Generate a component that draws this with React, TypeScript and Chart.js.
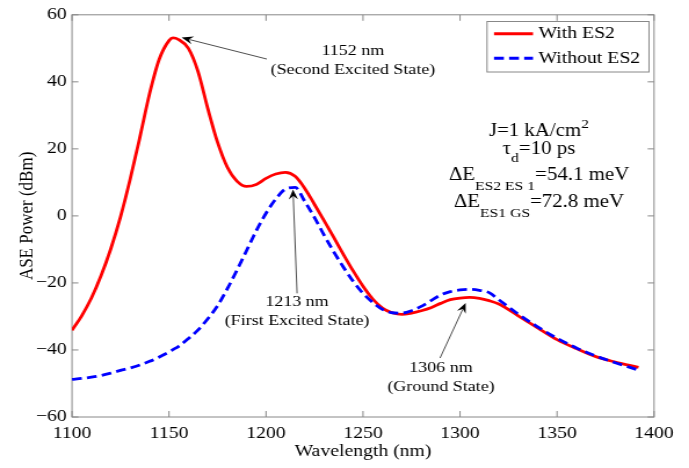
import React, { useEffect, useRef } from "react";
import { Chart, registerables } from "chart.js";

Chart.register(...registerables);

// ---------------- data ----------------
const wavelengths = [
  1100, 1105, 1110, 1115, 1120, 1125, 1130, 1135, 1140, 1145, 1150, 1152, 1155, 1160, 1165, 1170,
  1175, 1180, 1185, 1190, 1195, 1200, 1205, 1210, 1215, 1220, 1225, 1230, 1235, 1240, 1245, 1250,
  1255, 1260, 1265, 1270, 1275, 1280, 1285, 1290, 1295, 1300, 1305, 1310, 1315, 1320, 1330, 1340,
  1350, 1360, 1370, 1380, 1392,
];
const withES2 = [
  -34.1, -29.8, -24.5, -17.8, -9.8, -0.3, 11.0, 23.5, 36.5, 46.8, 52.3, 53.1, 52.6, 50.0, 43.0, 32.0,
  22.0, 14.6, 10.4, 8.8, 9.4, 11.2, 12.5, 13.0, 11.8, 8.2, 3.4, -1.5, -6.5, -11.6, -16.5, -21.0,
  -24.8, -27.5, -28.9, -29.4, -29.0, -28.3, -27.4, -26.1, -25.0, -24.5, -24.3, -24.6, -25.3, -26.3, -29.8, -33.4,
  -36.9, -39.6, -42.0, -43.6, -45.2,
];
const withoutES2 = [
  -48.8, -48.5, -48.1, -47.6, -46.9, -46.1, -45.4, -44.5, -43.4, -42.1, -40.6, -39.9, -38.9, -36.6, -34.0, -30.7,
  -26.8, -21.8, -16.2, -10.3, -4.4, 0.8, 5.0, 8.0, 8.5, 4.3, -0.5, -5.8, -10.8, -15.4, -19.6, -23.1,
  -25.8, -27.9, -28.9, -29.0, -28.3, -27.0, -25.3, -23.6, -22.6, -22.1, -21.9, -22.2, -22.9, -25.0, -29.3, -33.1,
  -36.5, -39.4, -41.8, -43.8, -46.0,
];
const seriesLabels = ["With ES2", "Without ES2"];
const xTicks = [1100, 1150, 1200, 1250, 1300, 1350, 1400];
const yTicks = [-60, -40, -20, 0, 20, 40, 60];
const xTitle = "Wavelength (nm)";
const yTitle = "ASE Power (dBm)";
const noteTexts = [
  ["1152 nm", "(Second Excited State)"],
  ["1213 nm", "(First Excited State)"],
  ["1306 nm", "(Ground State)"],
];
// text anchor (data units), arrow start, arrow tip
const noteAnchors = [
  { text: [1244.8, 49.3], from: [1200.4, 46.8], to: [1156.5, 53.2] },
  { text: [1216.0, -25.8], from: [1216.0, -23.1], to: [1213.9, 7.9] },
  { text: [1290.2, -45.4], from: [1289.7, -42.4], to: [1302.9, -26.0] },
];

// ---------------- layout ----------------
const W = 689;
const H = 468;
const S = 1.16; // horizontal stretch of the whole figure
const IW = W / S;
const FONT = '"Liberation Serif", "Times New Roman", Times, serif';
const FRAME = "#888888";

type Seg = [string, number, number];

function richLine(ctx: CanvasRenderingContext2D, segs: Seg[], cx: number, baseline: number) {
  let total = 0;
  const widths = segs.map(([t, size]) => {
    ctx.font = `${size}px ${FONT}`;
    const w = ctx.measureText(t).width;
    total += w;
    return w;
  });
  let x = cx - total / 2;
  ctx.textAlign = "left";
  ctx.textBaseline = "alphabetic";
  ctx.fillStyle = "#000";
  segs.forEach(([t, size, dy], i) => {
    ctx.font = `${size}px ${FONT}`;
    ctx.fillText(t, x, baseline + dy);
    x += widths[i];
  });
}

function arrow(ctx: CanvasRenderingContext2D, x1: number, y1: number, x2: number, y2: number) {
  const ang = Math.atan2(y2 - y1, x2 - x1);
  const L = 10;
  const Wd = 4;
  ctx.save();
  ctx.strokeStyle = "#3a3a3a";
  ctx.lineWidth = 0.9;
  ctx.beginPath();
  ctx.moveTo(x1, y1);
  ctx.lineTo(x2 - Math.cos(ang) * L * 0.7, y2 - Math.sin(ang) * L * 0.7);
  ctx.stroke();
  ctx.translate(x2, y2);
  ctx.rotate(ang);
  ctx.beginPath();
  ctx.moveTo(0, 0);
  ctx.lineTo(-L, -Wd);
  ctx.lineTo(-L * 0.65, 0);
  ctx.lineTo(-L, Wd);
  ctx.closePath();
  ctx.fillStyle = "#000";
  ctx.fill();
  ctx.restore();
}

const framePlugin = {
  id: "frame",
  beforeDatasetsDraw(chart: any) {
    const { ctx, chartArea: a, scales } = chart;
    ctx.save();
    ctx.strokeStyle = FRAME;
    ctx.lineWidth = 1;
    ctx.strokeRect(a.left, a.top, a.right - a.left, a.bottom - a.top);
    ctx.beginPath();
    xTicks.forEach((v) => {
      const px = scales.x.getPixelForValue(v);
      ctx.moveTo(px, a.bottom);
      ctx.lineTo(px, a.bottom - 6);
      ctx.moveTo(px, a.top);
      ctx.lineTo(px, a.top + 6);
    });
    yTicks.forEach((v) => {
      const py = scales.y.getPixelForValue(v);
      ctx.moveTo(a.left, py);
      ctx.lineTo(a.left + 5.5, py);
      ctx.moveTo(a.right, py);
      ctx.lineTo(a.right - 5.5, py);
    });
    ctx.stroke();
    ctx.restore();
  },
  afterDatasetsDraw(chart: any) {
    const { ctx, scales } = chart;
    const X = (v: number) => scales.x.getPixelForValue(v);
    const Y = (v: number) => scales.y.getPixelForValue(v);
    ctx.save();
    // peak annotations
    noteAnchors.forEach((n, i) => {
      arrow(ctx, X(n.from[0]), Y(n.from[1]), X(n.to[0]), Y(n.to[1]));
      ctx.font = `15.5px ${FONT}`;
      ctx.fillStyle = "#000";
      ctx.textAlign = "center";
      ctx.textBaseline = "middle";
      noteTexts[i].forEach((t, k) => {
        ctx.fillText(t, X(n.text[0]), Y(n.text[1]) + k * 19);
      });
    });
    // parameter block
    const cx = X(1340.7);
    richLine(ctx, [["J=1 kA/cm", 18, 0], ["2", 13.5, -8]], cx, Y(23.97));
    richLine(ctx, [["\u03c4", 18, 0], ["d", 13.5, 8.5], ["=10 ps", 18, 0]], cx, Y(18.6));
    richLine(ctx, [["\u0394E", 18, 0], ["ES2 ES 1", 13.5, 9.5], ["=54.1 meV", 18, 0]], cx, Y(10.57));
    richLine(ctx, [["\u0394E", 18, 0], ["ES1 GS", 13.5, 9.5], ["=72.8 meV", 18, 0]], cx, Y(2.62));
    // legend
    const lx = 487 / S;
    const lr = 649 / S;
    ctx.fillStyle = "#fff";
    ctx.fillRect(lx, 21, lr - lx, 51);
    ctx.strokeStyle = FRAME;
    ctx.lineWidth = 1;
    ctx.strokeRect(lx, 21.5, lr - lx, 50.5);
    const rows = [
      { y: 33.8, color: "#ff0000", dash: [] as number[] },
      { y: 58.2, color: "#0000ff", dash: [8.5, 4.5] },
    ];
    rows.forEach((r, i) => {
      ctx.beginPath();
      ctx.setLineDash(r.dash);
      ctx.strokeStyle = r.color;
      ctx.lineWidth = 3;
      ctx.moveTo(494 / S, r.y);
      ctx.lineTo(533 / S, r.y);
      ctx.stroke();
      ctx.setLineDash([]);
      ctx.font = `17px ${FONT}`;
      ctx.fillStyle = "#000";
      ctx.textAlign = "left";
      ctx.textBaseline = "middle";
      ctx.fillText(seriesLabels[i], 538.5 / S, r.y);
    });
    ctx.restore();
  },
};

export default function App() {
  const ref = useRef<HTMLCanvasElement | null>(null);
  useEffect(() => {
    document.body.style.margin = "0";
    const canvas = ref.current;
    if (!canvas) return;
    const chart = new Chart(canvas, {
      type: "line",
      data: {
        datasets: [
          {
            label: seriesLabels[0],
            data: wavelengths.map((x, i) => ({ x, y: withES2[i] })),
            borderColor: "#ff0000",
            borderWidth: 2.8,
            cubicInterpolationMode: "monotone",
            pointRadius: 0,
            fill: false,
            order: 1,
          },
          {
            label: seriesLabels[1],
            data: wavelengths.map((x, i) => ({ x, y: withoutES2[i] })),
            borderColor: "#0000ff",
            borderWidth: 2.8,
            borderDash: [8.5, 4.5],
            cubicInterpolationMode: "monotone",
            pointRadius: 0,
            fill: false,
            order: 0,
          },
        ],
      },
      options: {
        animation: false,
        responsive: false,
        devicePixelRatio: 1,
        layout: { padding: { top: 14, right: IW - 654 / S, bottom: 0, left: 0 } },
        plugins: { legend: { display: false }, tooltip: { enabled: false } },
        elements: { point: { radius: 0 } },
        scales: {
          x: {
            type: "linear",
            min: 1100,
            max: 1400,
            afterBuildTicks: (s: any) => {
              s.ticks = xTicks.map((v) => ({ value: v }));
            },
            grid: { display: false, drawTicks: false },
            border: { display: false },
            ticks: {
              color: "#000",
              font: { family: FONT, size: 17 },
              padding: 6,
              maxRotation: 0,
              autoSkip: false,
              callback: (v: any) => String(v),
            },
            title: {
              display: true,
              text: xTitle,
              color: "#000",
              font: { family: FONT, size: 17 },
              padding: { top: 0, bottom: 6 },
            },
            afterFit: (s: any) => {
              s.height = H - 417;
            },
          },
          y: {
            type: "linear",
            min: -60,
            max: 60,
            afterBuildTicks: (s: any) => {
              s.ticks = yTicks.map((v) => ({ value: v }));
            },
            grid: { display: false, drawTicks: false },
            border: { display: false },
            ticks: {
              color: "#000",
              font: { family: FONT, size: 17 },
              padding: 4.6,
              autoSkip: false,
              callback: (v: any) => String(v).replace("-", "\u2212"),
            },
            title: {
              display: true,
              text: yTitle,
              color: "#000",
              font: { family: FONT, size: 17 },
              padding: { top: 13, bottom: 0 },
            },
            afterFit: (s: any) => {
              s.width = 72 / S;
            },
          },
        },
      },
      plugins: [framePlugin],
    } as any);
    return () => chart.destroy();
  }, []);

  return (
    <div style={{ width: W, height: H, overflow: "hidden", position: "relative", background: "#fff" }}>
      <div style={{ width: IW, height: H, transform: `scaleX(${S})`, transformOrigin: "0 0" }}>
        <canvas ref={ref} width={Math.round(IW)} height={H} style={{ display: "block" }} />
      </div>
    </div>
  );
}
